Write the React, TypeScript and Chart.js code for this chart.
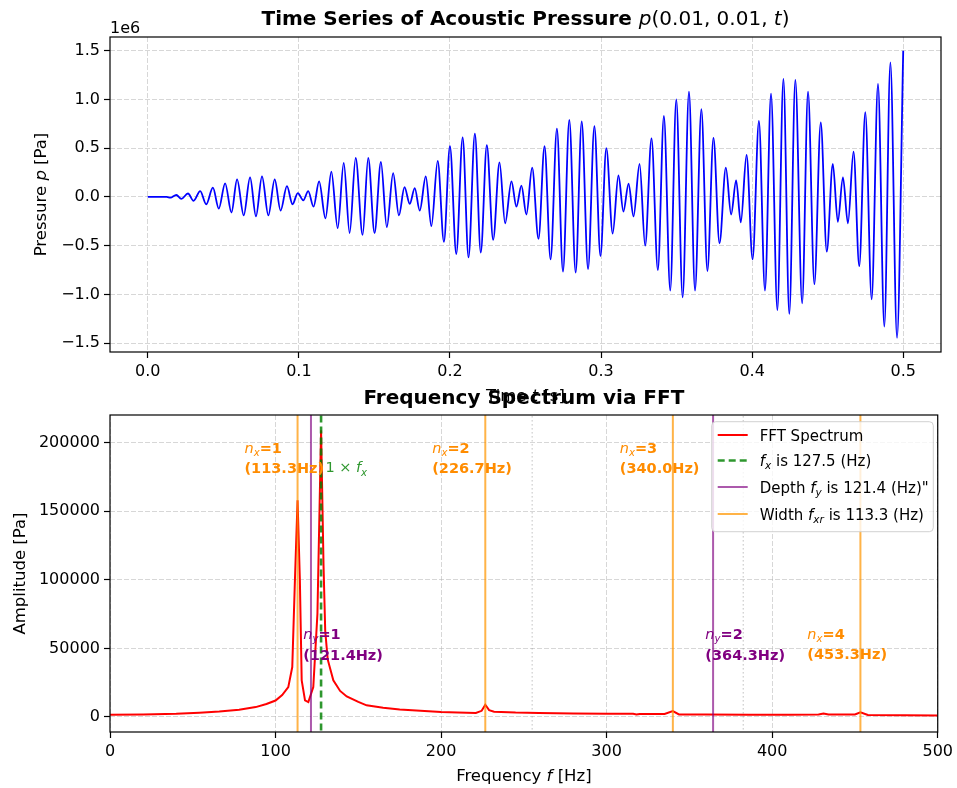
import React, { useEffect, useRef } from 'react';
import { Chart, registerables } from 'chart.js';
Chart.register(...registerables);

// ---------------- Top panel: time series (extrema), pressure in units of 1e6 Pa
const timeS = [
  0, 0.0125, 0.015, 0.0189, 0.0222, 0.0266, 0.0303, 0.0347, 0.0387, 0.0431, 0.047, 0.0512, 0.0554, 0.0591, 0.0635,
  0.0677, 0.0716, 0.0756, 0.0798, 0.084, 0.0879, 0.0921, 0.0958, 0.0993, 0.1029, 0.1062, 0.1097, 0.1134, 0.1176,
  0.1215, 0.1257, 0.1297, 0.1336, 0.1376, 0.1422, 0.1459, 0.1501, 0.1543, 0.1582, 0.1624, 0.1662, 0.1699, 0.1734,
  0.1767, 0.18, 0.184, 0.1877, 0.1919, 0.196, 0.2, 0.2042, 0.2084, 0.2123, 0.2165, 0.2204, 0.2244, 0.2286, 0.2328,
  0.2365, 0.2407, 0.244, 0.2473, 0.2506, 0.2544, 0.2586, 0.2626, 0.2666, 0.2708, 0.2748, 0.279, 0.2832, 0.2872,
  0.2914, 0.2956, 0.2996, 0.3035, 0.3077, 0.3115, 0.3148, 0.3182, 0.3215, 0.3255, 0.3292, 0.3334, 0.3376, 0.3416,
  0.3458, 0.3498, 0.354, 0.3582, 0.3622, 0.3664, 0.3704, 0.3744, 0.3784, 0.3826, 0.3861, 0.3894, 0.3925, 0.3963,
  0.4003, 0.4045, 0.4085, 0.4125, 0.4167, 0.4207, 0.4246, 0.4286, 0.4331, 0.437, 0.4412, 0.4454, 0.4494, 0.4534,
  0.4567, 0.4601, 0.4634, 0.4671, 0.4709, 0.4749, 0.4791, 0.4833, 0.4875, 0.4915, 0.4959, 0.5,
];
const pressure = [
  0, 0, -0.008, 0.02, -0.02, 0.035, -0.04, 0.06, -0.075, 0.095, -0.12, 0.14, -0.16, 0.18, -0.19,
  0.2, -0.2, 0.21, -0.19, 0.18, -0.14, 0.11, -0.075, 0.04, -0.035, 0.06, -0.1, 0.16, -0.22,
  0.26, -0.32, 0.35, -0.37, 0.4, -0.39, 0.4, -0.37, 0.36, -0.31, 0.245, -0.19, 0.1, -0.07,
  0.09, -0.14, 0.21, -0.3, 0.37, -0.46, 0.52, -0.585, 0.61, -0.62, 0.65, -0.57, 0.53, -0.44, 0.355,
  -0.27, 0.16, -0.1, 0.115, -0.18, 0.3, -0.43, 0.52, -0.64, 0.7, -0.765, 0.79, -0.775, 0.775,
  -0.74, 0.725, -0.605, 0.5, -0.375, 0.22, -0.15, 0.135, -0.2, 0.34, -0.5, 0.6, -0.75, 0.83,
  -0.96, 1.0, -1.03, 1.08, -0.96, 0.9, -0.76, 0.605, -0.475, 0.3, -0.18, 0.17, -0.26, 0.43,
  -0.64, 0.78, -0.96, 1.06, -1.16, 1.21, -1.2, 1.2, -1.09, 1.08, -0.895, 0.765, -0.56, 0.34,
  -0.255, 0.2, -0.27, 0.465, -0.71, 0.87, -1.05, 1.16, -1.33, 1.38, -1.445, 1.5,
];
const timeTicks = [0, 0.1, 0.2, 0.3, 0.4, 0.5];
const timeTickLabels = ['0.0', '0.1', '0.2', '0.3', '0.4', '0.5'];
const pressTicks = [-1.5, -1.0, -0.5, 0, 0.5, 1.0, 1.5];
const pressTickLabels = ['\u22121.5', '\u22121.0', '\u22120.5', '0.0', '0.5', '1.0', '1.5'];

// ---------------- Bottom panel: FFT spectrum
const specFreq = [
  0, 20, 40, 54, 66, 78, 88, 94.5, 100, 104, 107.7, 110.1, 111.7, 113.3, 114.7, 115.8, 117.8, 119.8, 122.8, 125.3,
  126.9, 127.5, 129.0, 130.0, 131.5, 134.9, 139, 143, 150, 155, 165, 175, 187.5, 200, 210, 221, 224.5, 226.7, 229,
  232, 245, 259, 280, 301, 316, 318, 320, 335, 340, 343.7, 360, 386, 410, 428, 431, 434, 450, 453.3, 457.8, 480, 500,
];
const specAmp = [
  1700, 1900, 2300, 3100, 4000, 5300, 7200, 9500, 12000, 16000, 21800, 36400, 99500, 158000, 99500, 26700, 12100,
  10900, 21800, 75200, 172000, 209000, 110000, 63000, 42000, 26700, 19000, 15000, 11000, 8500, 6800, 5400, 4500,
  3600, 3300, 2900, 4500, 8900, 5000, 3900, 3200, 2900, 2600, 2400, 2300, 1800, 2200, 2200, 4300, 1900, 1800, 1700,
  1700, 1800, 2500, 1800, 1900, 3400, 1450, 1300, 1000,
];
const freqTicks = [0, 100, 200, 300, 400, 500];
const freqTickLabels = ['0', '100', '200', '300', '400', '500'];
const ampTicks = [0, 50000, 100000, 150000, 200000];
const ampTickLabels = ['0', '50000', '100000', '150000', '200000'];

const fx = 127.5;
const fxHarmonics = [255, 382.5];
const widthModes = [113.3, 226.7, 340.0, 453.3]; // n_x = 1..4
const widthModeLabels = ['(113.3Hz)', '(226.7Hz)', '(340.0Hz)', '(453.3Hz)'];
const widthLabelY = [189000, 189000, 189000, 53000];
const depthModes = [121.4, 364.3]; // n_y = 1..2
const depthModeLabels = ['(121.4Hz)', '(364.3Hz)'];
const depthLabelY = [53000, 53000];
const annotYFx = 182000;

const FAM = '"DejaVu Sans", "Noto Sans", sans-serif';
const ORANGE_LINE = 'rgba(255,150,0,0.72)';
const ORANGE_TEXT = '#ff8c00';
const PURPLE_LINE = 'rgba(128,0,128,0.65)';
const PURPLE_TEXT = '#800080';
const GREEN = 'rgba(0,128,0,0.82)';

type Seg = { t: string; w?: 'b' | 'i' | 'n'; sub?: boolean; color?: string };

function segFont(s: Seg, size: number) {
  const sz = s.sub ? size * 0.7 : size;
  return `${s.w === 'i' ? 'italic ' : ''}${s.w === 'b' ? 'bold ' : ''}${sz}px ${FAM}`;
}
function richWidth(ctx: CanvasRenderingContext2D, segs: Seg[], size: number) {
  let w = 0;
  for (const s of segs) {
    ctx.font = segFont(s, size);
    w += ctx.measureText(s.t).width;
  }
  return w;
}
function drawRich(
  ctx: CanvasRenderingContext2D,
  segs: Seg[],
  x: number,
  y: number,
  size: number,
  color: string,
  align: 'left' | 'center' | 'right' = 'center'
) {
  const w = richWidth(ctx, segs, size);
  let cx = align === 'center' ? x - w / 2 : align === 'right' ? x - w : x;
  ctx.textBaseline = 'alphabetic';
  ctx.textAlign = 'left';
  for (const s of segs) {
    ctx.font = segFont(s, size);
    ctx.fillStyle = s.color || color;
    ctx.fillText(s.t, cx, y + (s.sub ? size * 0.22 : 0));
    cx += ctx.measureText(s.t).width;
  }
}

const framePlugin = {
  id: 'frame',
  afterDatasetsDraw(chart: any) {
    const { ctx, chartArea } = chart;
    ctx.save();
    ctx.strokeStyle = '#000';
    ctx.lineWidth = 1.2;
    ctx.setLineDash([]);
    ctx.strokeRect(chartArea.left, chartArea.top, chartArea.right - chartArea.left, chartArea.bottom - chartArea.top);
    ctx.restore();
  },
};

const topTextPlugin = {
  id: 'topText',
  afterDraw(chart: any) {
    const { ctx, chartArea } = chart;
    const cx = (chartArea.left + chartArea.right) / 2;
    ctx.save();
    drawRich(
      ctx,
      [
        { t: 'Time Series of Acoustic Pressure ', w: 'b' },
        { t: 'p', w: 'i' },
        { t: '(0.01, 0.01, ' },
        { t: 't', w: 'i' },
        { t: ')' },
      ],
      cx,
      25,
      20,
      '#000'
    );
    drawRich(ctx, [{ t: '1e6' }], chartArea.left, 33, 16, '#000', 'left');
    drawRich(ctx, [{ t: 'Time ' }, { t: 't', w: 'i' }, { t: ' [s]' }], cx, 401, 16.5, '#000');
    ctx.translate(46, (chartArea.top + chartArea.bottom) / 2);
    ctx.rotate(-Math.PI / 2);
    drawRich(ctx, [{ t: 'Pressure ' }, { t: 'p', w: 'i' }, { t: ' [Pa]' }], 0, 0, 16.5, '#000');
    ctx.restore();
  },
};

const legendItems: { label: Seg[]; color: string; dash: number[] }[] = [
  { label: [{ t: 'FFT Spectrum' }], color: '#ff0000', dash: [] },
  { label: [{ t: 'f', w: 'i' }, { t: 'x', w: 'i', sub: true }, { t: ' is 127.5 (Hz)' }], color: GREEN, dash: [7, 4] },
  {
    label: [{ t: 'Depth ' }, { t: 'f', w: 'i' }, { t: 'y', w: 'i', sub: true }, { t: ' is 121.4 (Hz)"' }],
    color: PURPLE_LINE,
    dash: [],
  },
  {
    label: [{ t: 'Width ' }, { t: 'f', w: 'i' }, { t: 'xr', w: 'i', sub: true }, { t: ' is 113.3 (Hz)' }],
    color: ORANGE_LINE,
    dash: [],
  },
];

const bottomTextPlugin = {
  id: 'bottomText',
  afterDatasetsDraw(chart: any) {
    const { ctx, chartArea, scales } = chart;
    const xs = scales.x;
    const ys = scales.y;
    const fs = 14.5;
    ctx.save();
    // width-mode annotations
    widthModes.forEach((f, i) => {
      const x = xs.getPixelForValue(f - 8);
      const y = ys.getPixelForValue(widthLabelY[i]);
      const segs: Seg[] = [
        { t: 'n', w: 'i' },
        { t: 'x', w: 'i', sub: true },
        { t: '=' + (i + 1), w: 'b' },
      ];
      const w2 = richWidth(ctx, [{ t: widthModeLabels[i], w: 'b' }], fs);
      drawRich(ctx, segs, x - w2 / 2, y - 10 + 5, fs, ORANGE_TEXT, 'left');
      drawRich(ctx, [{ t: widthModeLabels[i], w: 'b' }], x, y + 10 + 5, fs, ORANGE_TEXT);
    });
    // depth-mode annotations
    depthModes.forEach((f, i) => {
      const x = xs.getPixelForValue(f + 19.4);
      const y = ys.getPixelForValue(depthLabelY[i]);
      const segs: Seg[] = [
        { t: 'n', w: 'i' },
        { t: 'y', w: 'i', sub: true },
        { t: '=' + (i + 1), w: 'b' },
      ];
      const w2 = richWidth(ctx, [{ t: depthModeLabels[i], w: 'b' }], fs);
      drawRich(ctx, segs, x - w2 / 2, y - 10.5 + 5, fs, PURPLE_TEXT, 'left');
      drawRich(ctx, [{ t: depthModeLabels[i], w: 'b' }], x, y + 10.5 + 5, fs, PURPLE_TEXT);
    });
    // 1 x f_x
    drawRich(
      ctx,
      [{ t: '1 \u00d7 ' }, { t: 'f', w: 'i' }, { t: 'x', w: 'i', sub: true }],
      xs.getPixelForValue(fx + 2.6),
      ys.getPixelForValue(annotYFx) + 5,
      fs,
      GREEN,
      'left'
    );
    // frame
    ctx.strokeStyle = '#000';
    ctx.lineWidth = 1.2;
    ctx.setLineDash([]);
    ctx.strokeRect(chartArea.left, chartArea.top, chartArea.right - chartArea.left, chartArea.bottom - chartArea.top);
    // legend
    const bx = 711.7, by = 41.7, bw = 221.6, bh = 110;
    ctx.beginPath();
    const r = 4;
    ctx.moveTo(bx + r, by);
    ctx.arcTo(bx + bw, by, bx + bw, by + bh, r);
    ctx.arcTo(bx + bw, by + bh, bx, by + bh, r);
    ctx.arcTo(bx, by + bh, bx, by, r);
    ctx.arcTo(bx, by, bx + bw, by, r);
    ctx.closePath();
    ctx.fillStyle = 'rgba(255,255,255,0.8)';
    ctx.fill();
    ctx.strokeStyle = 'rgba(204,204,204,0.9)';
    ctx.lineWidth = 1;
    ctx.stroke();
    const rows = [55, 80.5, 107, 134];
    legendItems.forEach((it, i) => {
      const yy = rows[i];
      ctx.beginPath();
      ctx.strokeStyle = it.color;
      ctx.lineWidth = it.dash.length ? 2.6 : 2;
      ctx.setLineDash(it.dash);
      ctx.moveTo(717.7, yy);
      ctx.lineTo(747.7, yy);
      ctx.stroke();
      ctx.setLineDash([]);
      drawRich(ctx, it.label, 759.7, yy + 5.5, 15, '#000', 'left');
    });
    ctx.restore();
  },
  afterDraw(chart: any) {
    const { ctx, chartArea } = chart;
    const cx = (chartArea.left + chartArea.right) / 2;
    ctx.save();
    drawRich(ctx, [{ t: 'Frequency Spectrum via FFT', w: 'b' }], cx, 24, 20, '#000');
    drawRich(ctx, [{ t: 'Frequency ' }, { t: 'f', w: 'i' }, { t: ' [Hz]' }], cx, 401, 16.5, '#000');
    ctx.translate(25, (chartArea.top + chartArea.bottom) / 2);
    ctx.rotate(-Math.PI / 2);
    drawRich(ctx, [{ t: 'Amplitude [Pa]' }], 0, 0, 16.5, '#000');
    ctx.restore();
  },
};

const tickFont = { family: FAM, size: 16 };
const gridCommon = {
  color: 'rgba(176,176,176,0.5)',
  lineWidth: 1,
  tickColor: '#000',
  tickLength: 6,
  tickWidth: 1.2,
};

function makeTopConfig(): any {
  return {
    type: 'line',
    data: {
      datasets: [
        {
          data: timeS.map((t, i) => ({ x: t, y: pressure[i] })),
          borderColor: '#0000ff',
          borderWidth: 1.8,
          pointRadius: 0,
          cubicInterpolationMode: 'monotone',
          fill: false,
        },
      ],
    },
    options: {
      responsive: false,
      animation: false,
      events: [],
      layout: { padding: { top: 37, right: 16, left: 0, bottom: 0 } },
      plugins: { legend: { display: false }, tooltip: { enabled: false }, title: { display: false } },
      scales: {
        x: {
          type: 'linear',
          min: -0.025,
          max: 0.525,
          afterBuildTicks: (s: any) => {
            s.ticks = timeTicks.map((v) => ({ value: v }));
          },
          afterFit: (s: any) => {
            s.height = 60;
          },
          ticks: {
            autoSkip: false,
            maxRotation: 0,
            padding: 4,
            color: '#000',
            font: tickFont,
            callback: (_v: any, i: number) => timeTickLabels[i],
          },
          grid: gridCommon,
          border: { display: false, dash: [5, 2] },
        },
        y: {
          type: 'linear',
          min: -1.59,
          max: 1.64,
          afterBuildTicks: (s: any) => {
            s.ticks = pressTicks.map((v) => ({ value: v }));
          },
          afterFit: (s: any) => {
            s.width = 110;
          },
          ticks: {
            autoSkip: false,
            padding: 4,
            color: '#000',
            font: tickFont,
            callback: (_v: any, i: number) => pressTickLabels[i],
          },
          grid: gridCommon,
          border: { display: false, dash: [5, 2] },
        },
      },
    },
    plugins: [framePlugin, topTextPlugin],
  };
}

function vline(f: number, color: string, width: number, dash: number[], order: number) {
  return {
    data: [
      { x: f, y: -50000 },
      { x: f, y: 300000 },
    ],
    borderColor: color,
    borderWidth: width,
    borderDash: dash,
    pointRadius: 0,
    fill: false,
    order,
  };
}

function makeBottomConfig(): any {
  const datasets: any[] = [];
  fxHarmonics.forEach((f) => datasets.push(vline(f, 'rgba(140,140,140,0.55)', 1, [1.5, 2.5], 10)));
  datasets.push({
    data: specFreq.map((f, i) => ({ x: f, y: specAmp[i] })),
    borderColor: '#ff0000',
    borderWidth: 2,
    pointRadius: 0,
    tension: 0,
    fill: false,
    order: 5,
  });
  widthModes.forEach((f) => datasets.push(vline(f, ORANGE_LINE, 2, [], 3)));
  depthModes.forEach((f) => datasets.push(vline(f, PURPLE_LINE, 2, [], 2)));
  datasets.push(vline(fx, GREEN, 2.6, [7, 4], 1));
  return {
    type: 'line',
    data: { datasets },
    options: {
      responsive: false,
      animation: false,
      events: [],
      layout: { padding: { top: 35, right: 16, left: 0, bottom: 0 } },
      plugins: { legend: { display: false }, tooltip: { enabled: false }, title: { display: false } },
      scales: {
        x: {
          type: 'linear',
          min: 0,
          max: 500,
          afterBuildTicks: (s: any) => {
            s.ticks = freqTicks.map((v) => ({ value: v }));
          },
          afterFit: (s: any) => {
            s.height = 56;
          },
          ticks: {
            autoSkip: false,
            maxRotation: 0,
            padding: 4,
            color: '#000',
            font: tickFont,
            callback: (_v: any, i: number) => freqTickLabels[i],
          },
          grid: gridCommon,
          border: { display: false, dash: [5, 2] },
        },
        y: {
          type: 'linear',
          min: -10950,
          max: 220200,
          afterBuildTicks: (s: any) => {
            s.ticks = ampTicks.map((v) => ({ value: v }));
          },
          afterFit: (s: any) => {
            s.width = 110;
          },
          ticks: {
            autoSkip: false,
            padding: 4,
            color: '#000',
            font: tickFont,
            callback: (_v: any, i: number) => ampTickLabels[i],
          },
          grid: gridCommon,
          border: { display: false, dash: [5, 2] },
        },
      },
    },
    plugins: [bottomTextPlugin],
  };
}

export default function App() {
  const topRef = useRef<HTMLCanvasElement>(null);
  const botRef = useRef<HTMLCanvasElement>(null);
  useEffect(() => {
    const c1 = new Chart(topRef.current as HTMLCanvasElement, makeTopConfig());
    const c2 = new Chart(botRef.current as HTMLCanvasElement, makeBottomConfig());
    return () => {
      c1.destroy();
      c2.destroy();
    };
  }, []);
  return (
    <div style={{ position: 'absolute', left: 0, top: 0, width: 957, height: 788, background: '#fff' }}>
      <canvas
        ref={topRef}
        width={957}
        height={412}
        style={{ position: 'absolute', left: 0, top: 0, width: 957, height: 412 }}
      />
      <canvas
        ref={botRef}
        width={957}
        height={408}
        style={{ position: 'absolute', left: 0, top: 380, width: 957, height: 408 }}
      />
    </div>
  );
}
